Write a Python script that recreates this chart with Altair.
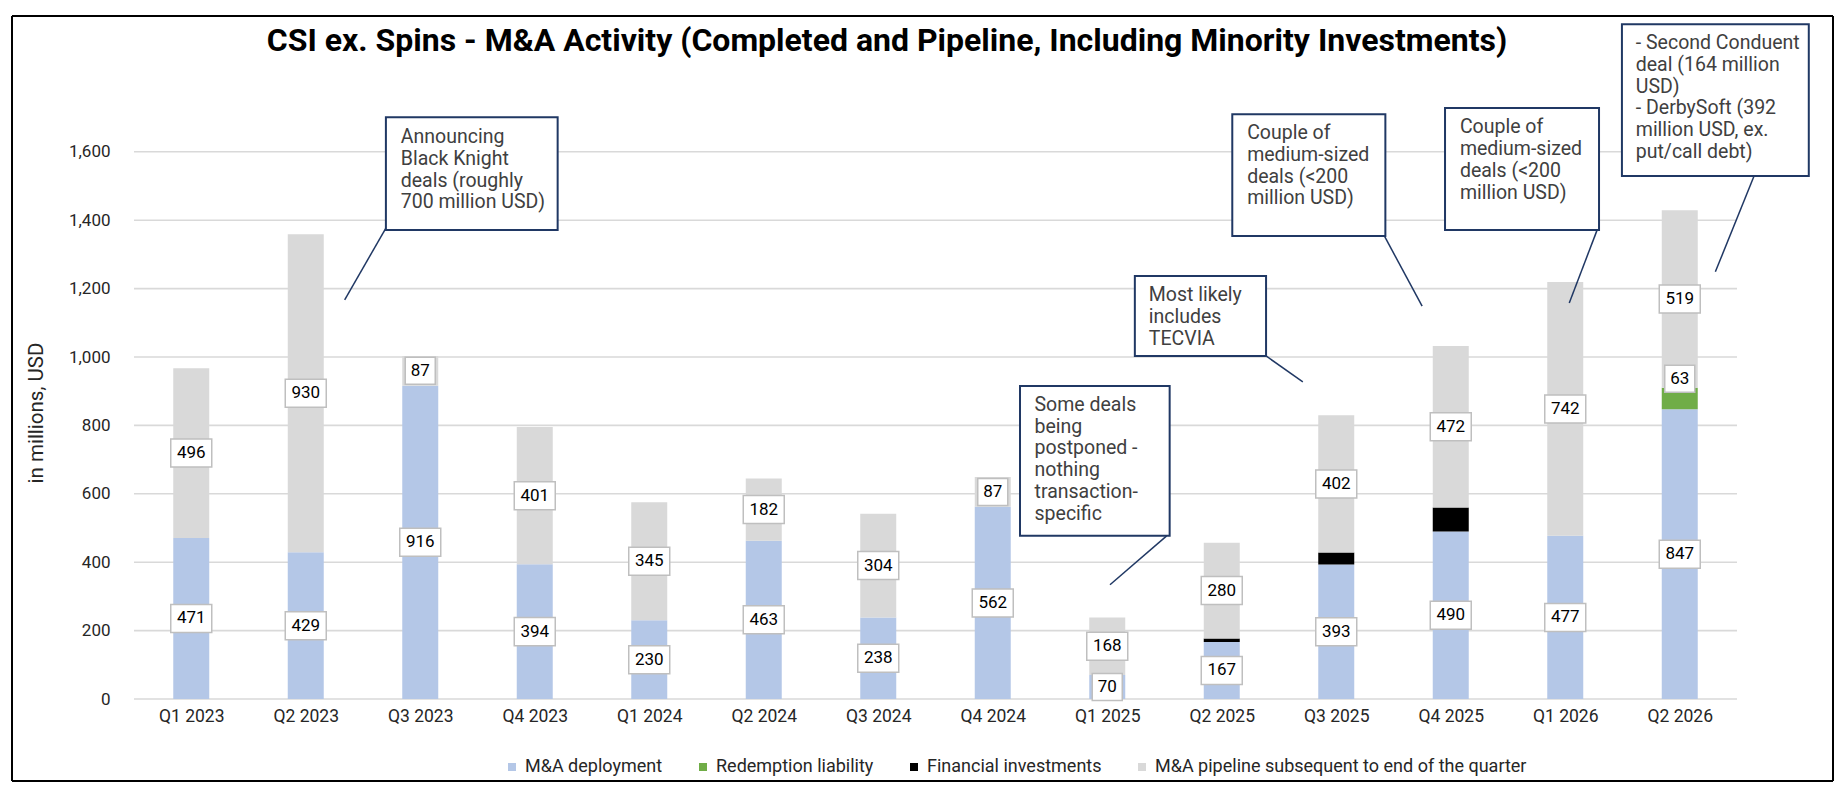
import altair as alt
import pandas as pd

# ---------------- data ----------------
quarters = ["Q1 2023", "Q2 2023", "Q3 2023", "Q4 2023", "Q1 2024", "Q2 2024", "Q3 2024",
            "Q4 2024", "Q1 2025", "Q2 2025", "Q3 2025", "Q4 2025", "Q1 2026", "Q2 2026"]
deployment = [471, 429, 916, 394, 230, 463, 238, 562, 70, 167, 393, 490, 477, 847]
redemption = [0, 0, 0, 0, 0, 0, 0, 0, 0, 0, 0, 0, 0, 63]
financial = [0, 0, 0, 0, 0, 0, 0, 0, 0, 10, 35, 70, 0, 0]
pipeline = [496, 930, 87, 401, 345, 182, 304, 87, 168, 280, 402, 472, 742, 519]

series_names = ["M&A deployment", "Redemption liability", "Financial investments",
                "M&A pipeline subsequent to end of the quarter"]
series_colors = ["#b4c7e7", "#70ad47", "#000000", "#d9d9d9"]
series_labelled = [True, True, False, True]

title_text = "CSI ex. Spins - M&A Activity (Completed and Pipeline, Including Minority Investments)"
y_title = "in millions, USD"
y_ticks = [0, 200, 400, 600, 800, 1000, 1200, 1400, 1600]

# annotation callouts, in data units (x: quarter index, y: USD millions)
ann_lines = [
    ["Announcing", "Black Knight", "deals (roughly", "700 million USD)"],
    ["Some deals", "being", "postponed -", "nothing", "transaction-", "specific"],
    ["Most likely", "includes", "TECVIA"],
    ["Couple of", "medium-sized", "deals (<200", "million USD)"],
    ["Couple of", "medium-sized", "deals (<200", "million USD)"],
    ["- Second Conduent", "deal (164 million", "USD)", "- DerbySoft (392", "million USD, ex.", "put/call debt)"],
]
ann_box_x0 = [1.70, 7.238, 8.241, 9.092, 10.950, 12.495]
ann_box_x1 = [3.20, 8.545, 9.387, 10.429, 12.295, 14.127]
ann_box_y0 = [1371, 477, 1003, 1354, 1371, 1529]
ann_box_y1 = [1701, 915, 1237, 1710, 1728, 1973]
ann_text_x = [1.83, 7.365, 8.363, 9.222, 11.080, 12.616]
ann_text_y = [1643, 860, 1181, 1655, 1672, 1918]
ann_lead_x0 = [1.70, 8.519, 9.387, 10.420, 12.278, 13.649]
ann_lead_y0 = [1377, 477, 1003, 1354, 1371, 1529]
ann_lead_x1 = [1.340, 8.024, 9.708, 10.750, 12.035, 13.311]
ann_lead_y1 = [1167, 334, 927, 1149, 1158, 1249]

# ---------------- tables ----------------
bar_rows, lab_rows = [], []
for i, q in enumerate(quarters):
    base = 0
    for s, vals, lab in zip(series_names, [deployment, redemption, financial, pipeline], series_labelled):
        v = vals[i]
        if v <= 0:
            continue
        bar_rows.append({"idx": i, "quarter": q, "series": s, "start": base, "end": base + v})
        if lab:
            is_top = (s == "Redemption liability")
            lab_rows.append({"idx": i, "txt": str(v), "nd": len(str(v)),
                             "ly": base + v if is_top else base + v / 2.0,
                             "top": is_top})
        base += v
bars_df = pd.DataFrame(bar_rows)
lab_df = pd.DataFrame(lab_rows)

# gridlines drawn as hairline bands around each tick value (half-width in axis units)
GRID_HALF = 2.3
grid_df = pd.DataFrame({"gy0": [t - GRID_HALF for t in y_ticks],
                        "gy1": [t + GRID_HALF for t in y_ticks],
                        "gx0": [-0.5] * len(y_ticks),
                        "gx1": [len(quarters) - 0.5] * len(y_ticks)})

ann_df = pd.DataFrame({
    "x0": ann_box_x0, "x1": ann_box_x1, "y0": ann_box_y0, "y1": ann_box_y1,
    "lx0": ann_lead_x0, "ly0": ann_lead_y0, "lx1": ann_lead_x1, "ly1": ann_lead_y1,
})

FONT = "Roboto"
NAVY = "#203864"
TXT = "#262626"
GRID = "#d9d9d9"
yscale = alt.Scale(domain=[0, 2000], nice=False, zero=False)
xscale = alt.Scale(domain=[-0.5, len(quarters) - 0.5], nice=False, zero=False)

quarter_js = "[" + ",".join("'" + q + "'" for q in quarters) + "]"
xaxis = alt.Axis(title=None, values=list(range(len(quarters))),
                 labelExpr=quarter_js + "[round(datum.value)]",
                 labelAngle=0, labelFontSize=17.5, labelColor=TXT, labelFont=FONT,
                 labelPadding=8, ticks=False, domain=False, grid=False)
yaxis = alt.Axis(values=y_ticks, format=",.0f", title=None,
                 labelFont=FONT, labelFontSize=17, labelColor=TXT,
                 labelPadding=19, ticks=False, domain=False, grid=False)


def X(field):
    return alt.X(field, scale=xscale, axis=xaxis)


def Y(field):
    return alt.Y(field, scale=yscale, axis=yaxis)


# ---------------- gridlines & bars ----------------
grid = alt.Chart(grid_df).mark_rect(color=GRID, opacity=1).encode(
    x=X("gx0:Q"), x2="gx1:Q", y=Y("gy0:Q"), y2="gy1:Q")

bars = alt.Chart(bars_df).mark_bar(size=36).encode(
    x=X("idx:Q"),
    y=Y("start:Q"),
    y2="end:Q",
    color=alt.Color("series:N", scale=alt.Scale(domain=series_names, range=series_colors),
                    legend=alt.Legend(orient="none", legendX=374, legendY=743,
                                      direction="horizontal", columns=4, title=None,
                                      symbolType="square", symbolSize=64, symbolStrokeWidth=0,
                                      labelFont=FONT, labelFontSize=18, labelColor=TXT,
                                      labelLimit=0, columnPadding=31, labelOffset=4,
                                      padding=0)),
)

PATH3 = "M-1,-0.683L1,-0.683L1,0.683L-1,0.683Z"
PATH2 = "M-1,-0.9L1,-0.9L1,0.9L-1,0.9Z"


def label_layers(top_flag, yoff):
    flt = "datum.top" if top_flag else "!datum.top"
    base = alt.Chart(lab_df).transform_filter(flt)
    enc = dict(x=X("idx:Q"), y=Y("ly:Q"))
    b3 = base.transform_filter("datum.nd >= 3").mark_point(
        shape=PATH3, size=1681, filled=True, fill="white", stroke="#bfbfbf",
        strokeWidth=1.5, opacity=1, yOffset=yoff).encode(**enc)
    b2 = base.transform_filter("datum.nd < 3").mark_point(
        shape=PATH2, size=900, filled=True, fill="white", stroke="#bfbfbf",
        strokeWidth=1.5, opacity=1, yOffset=yoff).encode(**enc)
    t = base.mark_text(font=FONT, fontSize=17, color="#000000", align="center",
                       baseline="middle", yOffset=yoff).encode(text="txt:N", **enc)
    return [b2, b3, t]


# ---------------- annotations ----------------
leaders = alt.Chart(ann_df).mark_rule(color=NAVY, strokeWidth=1.5).encode(
    x=X("lx0:Q"), x2="lx1:Q", y=Y("ly0:Q"), y2="ly1:Q")
boxes = alt.Chart(ann_df).mark_rect(fill="white", stroke=NAVY, strokeWidth=2).encode(
    x=X("x0:Q"), x2="x1:Q", y=Y("y0:Q"), y2="y1:Q")
texts = []
for k, lines in enumerate(ann_lines):
    d = pd.DataFrame({"tx": [ann_text_x[k]], "ty": [ann_text_y[k]]})
    texts.append(alt.Chart(d).mark_text(text=lines, align="left", baseline="top", dy=-9,
                                        lineHeight=21.8, fontSize=19.5, font=FONT,
                                        color="#404040").encode(
        x=X("tx:Q"), y=Y("ty:Q")))

one = pd.DataFrame({"k": [0]})
# chart-area frame drawn as four edges
frame = [
    alt.Chart(one).mark_rule(color="#000000", strokeWidth=2).encode(
        x=alt.value(-117), x2=alt.value(1704), y=alt.value(1)),
    alt.Chart(one).mark_rule(color="#000000", strokeWidth=2).encode(
        x=alt.value(-117), x2=alt.value(1704), y=alt.value(766)),
    alt.Chart(one).mark_rule(color="#000000", strokeWidth=2).encode(
        x=alt.value(-117), y=alt.value(1), y2=alt.value(766)),
    alt.Chart(one).mark_rule(color="#000000", strokeWidth=2).encode(
        x=alt.value(1704), y=alt.value(1), y2=alt.value(766)),
]
title = alt.Chart(one).mark_text(text=title_text, font=FONT, fontSize=32, fontWeight="bold",
                                 color="#000000", align="center", baseline="middle").encode(
    x=alt.value(758), y=alt.value(26))
ytitle = alt.Chart(one).mark_text(text=y_title, font=FONT, fontSize=20.5, angle=270,
                                  color=TXT, align="center", baseline="middle").encode(
    x=alt.value(-92), y=alt.value(398))

chart = alt.layer(
    grid, bars, *label_layers(False, 0), *label_layers(True, -9),
    leaders, boxes, *texts, title, ytitle, *frame
).properties(
    width=1613, height=684,
    padding={"left": 121, "top": 7, "right": 94, "bottom": 83},
    autosize=alt.AutoSizeParams(type="none"),
).configure_view(strokeWidth=0)

chart.save("out.html", embed_options={"renderer": "svg", "actions": False})
